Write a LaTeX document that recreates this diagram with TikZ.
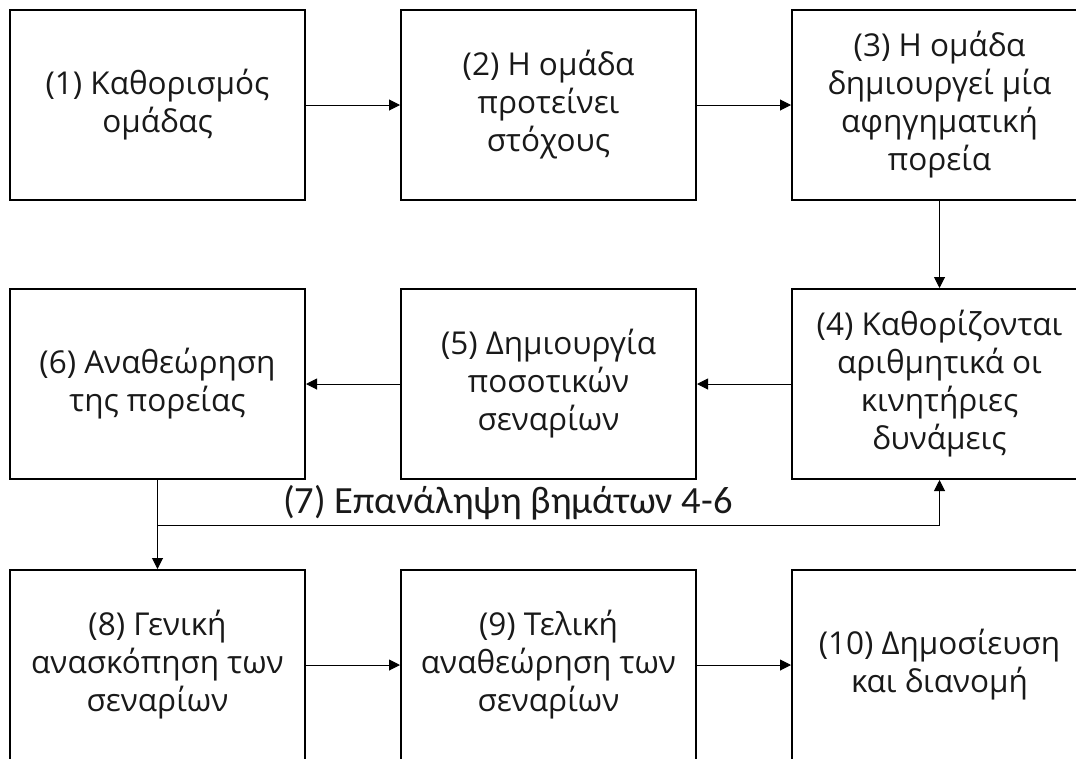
\documentclass[tikz,border=0pt]{standalone}
\usepackage{fontspec}
\setmainfont{Open Sans}
\newfontfamily\labfont{Carlito}
\usetikzlibrary{arrows.meta}
\tikzset{
  stepbox/.style={draw=black, line width=2pt, minimum width=295pt, minimum height=190pt,
    inner sep=0pt, align=center, text=black!90, font=\fontsize{31.5}{38}\selectfont},
  arr/.style={line width=1pt, -{Triangle[length=11pt,width=11pt]}}
}
\begin{document}
\begin{tikzpicture}[x=1pt,y=-1pt]
\useasboundingbox (0,0) rectangle (1076,758);
\clip (0,0) rectangle (1076,758);
\node[stepbox] (b1) at (157.5,105) {(1) Καθορισμός\\ομάδας};
\node[stepbox] (b2) at (548.5,105) {(2) Η ομάδα\\προτείνει\\στόχους};
\node[stepbox] (b3) at (939.5,105) {(3) Η ομάδα\\δημιουργεί μία\\αφηγηματική\\πορεία};
\node[stepbox] (b4) at (939.5,384) {(4) Καθορίζονται\\αριθμητικά οι\\κινητήριες\\δυνάμεις};
\node[stepbox] (b5) at (548.5,384) {(5) Δημιουργία\\ποσοτικών\\σεναρίων};
\node[stepbox] (b6) at (157.5,384) {(6) Αναθεώρηση\\της πορείας};
\node[stepbox] (b8) at (157.5,665) {(8) Γενική\\ανασκόπηση των\\σεναρίων};
\node[stepbox] (b9) at (548.5,665) {(9) Τελική\\αναθεώρηση των\\σεναρίων};
\node[stepbox] (b10) at (939.5,665) {(10) Δημοσίευση\\και διανομή};
\draw[arr] (b1) -- (b2);
\draw[arr] (b2) -- (b3);
\draw[arr] (b3.south) -- (b4.north);
\draw[arr] (b4) -- (b5);
\draw[arr] (b5) -- (b6);
\draw[arr] (b6.south) -- (b8.north);
\coordinate (j) at (157.5,525);
\draw[arr] (j) -| (b4.south);
\node[anchor=base, inner sep=0pt, text=black!90, font=\labfont\fontsize{38.5}{40}\selectfont] (l7) at (508,513) {(7) Επανάληψη βημάτων 4-6};
\draw[arr] (b8) -- (b9);
\draw[arr] (b9) -- (b10);
\end{tikzpicture}
\end{document}
